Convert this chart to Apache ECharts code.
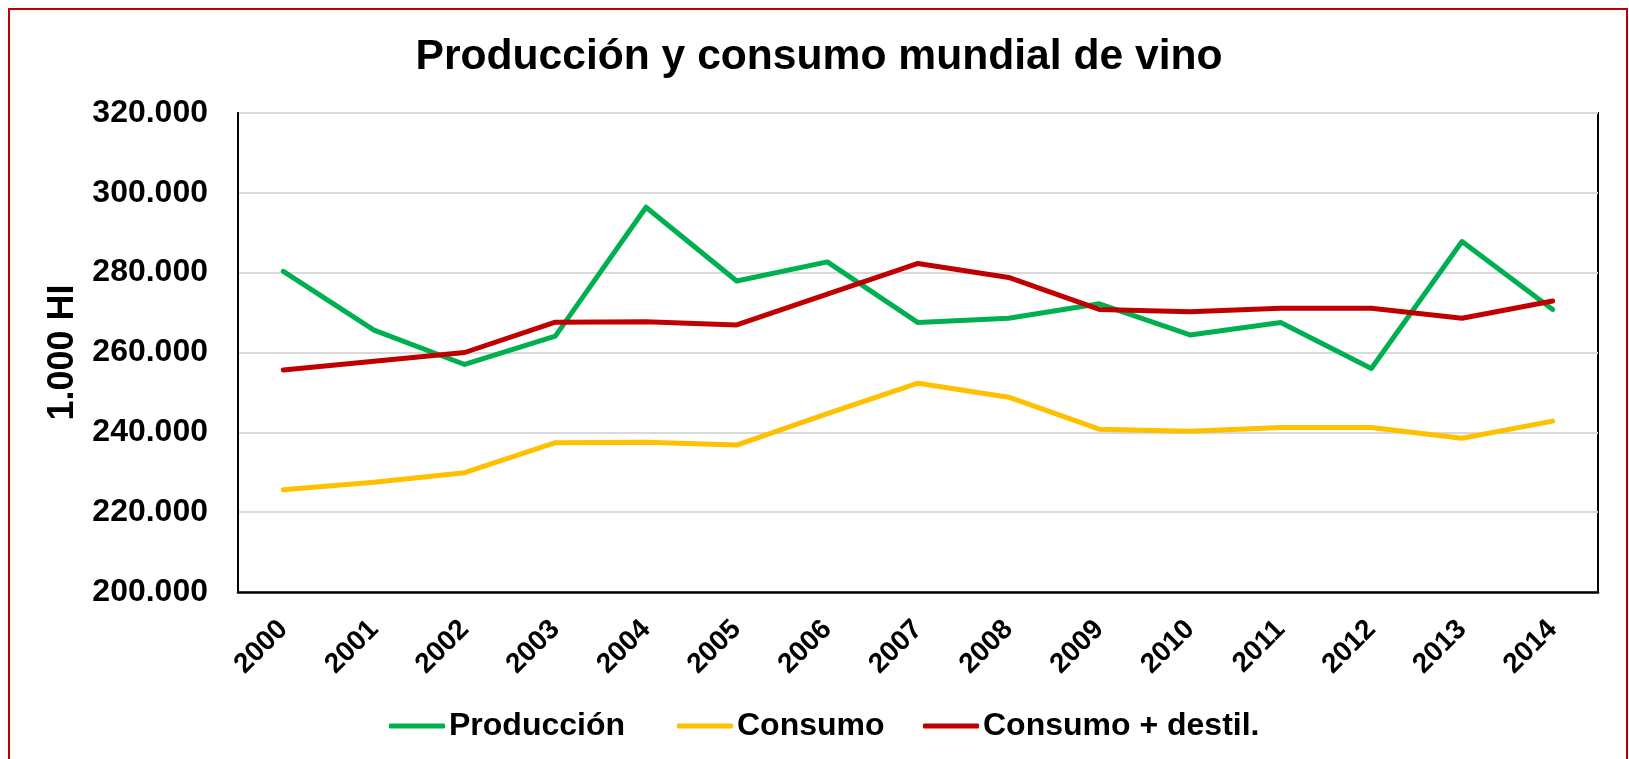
<!DOCTYPE html>
<html>
<head>
<meta charset="utf-8">
<script src="https://cdn.jsdelivr.net/npm/echarts@6/dist/echarts.min.js"></script>
<style>
  html, body { margin: 0; padding: 0; background: #fff; }
  #chart { width: 1629px; height: 759px; }
</style>
</head>
<body>
<div id="chart"></div>
<script>
// Datos (miles de hl)
const years = ['2000', '2001', '2002', '2003', '2004', '2005', '2006', '2007', '2008', '2009', '2010', '2011', '2012', '2013', '2014'];
const produccion = [280300, 265600, 257000, 264100, 296400, 277900, 282700, 267500, 268600, 272200, 264400, 267500, 256000, 287800, 270800];
const consumo = [225600, 227500, 229900, 237400, 237500, 236800, 244700, 252300, 248800, 240800, 240300, 241200, 241200, 238500, 242800];
const consumoDestil = [255600, 257800, 260000, 267600, 267700, 266900, 274600, 282300, 278800, 270800, 270200, 271100, 271100, 268600, 272900];
const seriesNames = ['Producción', 'Consumo', 'Consumo + destil.'];

const FONT = 'Arial, "Liberation Sans", sans-serif';
const formatMiles = (v) => new Intl.NumberFormat('de-DE').format(v);

const chart = echarts.init(document.getElementById('chart'));

const lineSerie = (name, data, color) => ({
    name: name,
    type: 'line',
    data: data,
    showSymbol: false,
    symbol: 'none',
    lineStyle: { width: 5, color: color, cap: 'round', join: 'round' },
    itemStyle: { color: color }
});

// una leyenda por serie, para colocarlas como en el original
const legendLeft = [389, 677, 923];
const legends = seriesNames.map((name, i) => ({
    data: [name],
    left: legendLeft[i],
    top: 710,
    padding: 0,
    icon: 'roundRect',
    itemWidth: 56,
    itemHeight: 5,
    textStyle: { fontFamily: FONT, fontSize: 32, fontWeight: 'bold', color: '#000', padding: [0, 0, 0, -1] }
}));

const option = {
    backgroundColor: '#fff',
    animation: false,
    textStyle: { fontFamily: FONT },
    title: {
        text: 'Producción y consumo mundial de vino',
        left: 814,
        top: 31,
        textAlign: 'center',
        textStyle: { fontFamily: FONT, fontSize: 42.6, fontWeight: 'bold', color: '#000' }
    },
    graphic: [{
        type: 'rect',
        shape: { x: 9, y: 9, width: 1618, height: 800 },
        style: { fill: 'none', stroke: '#C00000', lineWidth: 2 },
        silent: true
    }],
    legend: legends,
    grid: {
        left: 238, right: 31, top: 113, bottom: 167,
        show: true, borderColor: '#000', borderWidth: 2,
        containLabel: false
    },
    xAxis: {
        type: 'category',
        data: years,
        boundaryGap: true,
        axisLine: { lineStyle: { color: '#000', width: 2.5 } },
        axisTick: { show: false },
        axisLabel: {
            interval: 0, rotate: 45, margin: 33,
            fontFamily: FONT, fontSize: 28, fontWeight: 'bold', color: '#000'
        }
    },
    yAxis: {
        type: 'value',
        min: 200000, max: 320000, interval: 20000,
        name: '1.000 HI',
        nameLocation: 'middle',
        nameGap: 149,
        nameTextStyle: { fontFamily: FONT, fontSize: 36, fontWeight: 'bold', color: '#000' },
        axisLine: { show: true, lineStyle: { color: '#000', width: 2 } },
        axisTick: { show: false },
        splitLine: { lineStyle: { color: '#D9D9D9', width: 2 } },
        axisLabel: {
            margin: 30,
            fontFamily: FONT, fontSize: 32, fontWeight: 'bold', color: '#000',
            formatter: formatMiles
        }
    },
    series: [
        lineSerie(seriesNames[0], produccion, '#00B050'),
        lineSerie(seriesNames[1], consumo, '#FFC000'),
        lineSerie(seriesNames[2], consumoDestil, '#C00000')
    ]
};

chart.setOption(option);
</script>
</body>
</html>
